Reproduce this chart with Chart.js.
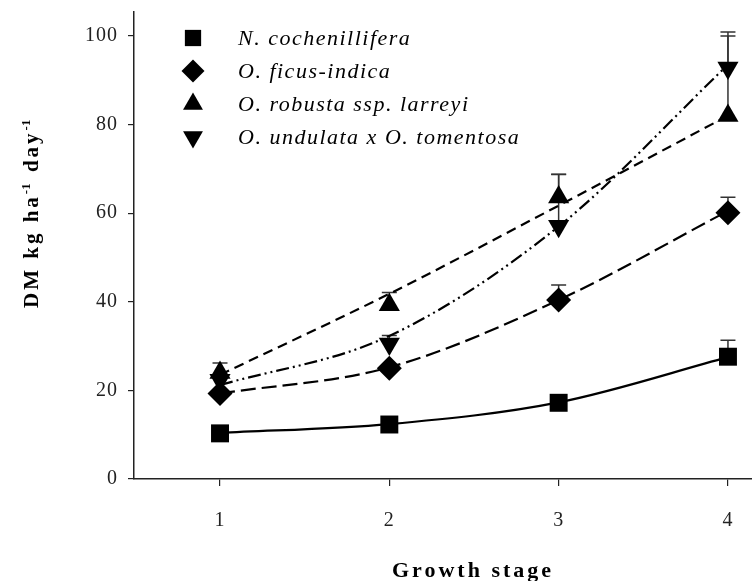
<!DOCTYPE html>
<html lang="en">
<head>
  <meta charset="UTF-8">
  <title>DM by growth stage</title>
  <script src="https://cdn.jsdelivr.net/npm/chart.js"></script>
  <style>
    html, body { margin: 0; padding: 0; background: #fff; }
    #wrap { width: 752px; height: 581px; }
  </style>
</head>
<body>
  <div id="wrap"><canvas id="grafico" width="752" height="581"></canvas></div>

  <script>
    const stages = [1, 2, 3, 4];
    const yTicks = [0, 20, 40, 60, 80, 100];
    const species = ['N. cochenillifera', 'O. ficus-indica', 'O. robusta ssp. larreyi', 'O. undulata x O. tomentosa'];

    // mean DM (kg/ha/day) per stage
    const cochenillifera = [10.3, 12.3, 17.2, 27.6];
    const ficusIndica = [19.3, 25.0, 40.4, 60.1];
    const robusta = [24.0, 39.3, 63.6, 82.0];
    const undulata = [22.3, 30.5, 57.1, 92.8];

    // upper error bars
    const errCochenillifera = [0, 0, 0, 3.7];
    const errFicusIndica = [0, 0, 3.4, 3.5];
    const errRobusta = [2.2, 2.8, 5.2, 18.0];
    const errUndulata = [0, 1.9, 11.6, 8.1];

    // fitted trend curves at each stage
    const fitCochenillifera = [10.4, 12.4, 17.3, 27.5];
    const fitFicusIndica = [19.3, 25.2, 40.4, 60.5];
    const fitRobusta = [23.5, 41.8, 61.7, 82.0];
    const fitUndulata = [21.2, 32.3, 57.0, 93.5];

    const pts = arr => stages.map((s, i) => ({ x: s, y: arr[i] }));

    function serie(label, values, err, style, radius, rotation) {
      return {
        label: label,
        data: pts(values),
        errUp: err,
        showLine: false,
        pointStyle: style,
        pointRadius: radius,
        rotation: rotation,
        pointRotation: rotation,
        pointBackgroundColor: '#000',
        pointBorderWidth: 0,
        order: 1
      };
    }

    function tendencia(values, dash) {
      return {
        label: '',
        data: pts(values),
        showLine: true,
        borderColor: '#000',
        borderWidth: 2.2,
        borderDash: dash,
        cubicInterpolationMode: 'monotone',
        pointRadius: 0,
        fill: false,
        order: 2
      };
    }

    // error bars go under the markers
    const errorBars = {
      id: 'errorBars',
      beforeDatasetsDraw(chart) {
        const ctx = chart.ctx;
        const yScale = chart.scales.y;
        ctx.save();
        ctx.strokeStyle = '#333';
        ctx.lineWidth = 1.5;
        chart.data.datasets.forEach((ds, i) => {
          if (!ds.errUp) return;
          chart.getDatasetMeta(i).data.forEach((p, j) => {
            const e = ds.errUp[j];
            if (!e) return;
            const top = yScale.getPixelForValue(ds.data[j].y + e);
            ctx.beginPath();
            ctx.moveTo(p.x, p.y);
            ctx.lineTo(p.x, top);
            ctx.moveTo(p.x - 7.5, top);
            ctx.lineTo(p.x + 7.5, top);
            ctx.stroke();
          });
        });
        ctx.restore();
      }
    };

    const spacing = {
      id: 'spacing',
      beforeDraw(chart) {
        chart.ctx.letterSpacing = '1px';
      }
    };

    // legend and axis titles
    const textos = {
      id: 'textos',
      afterDraw(chart) {
        const ctx = chart.ctx;
        ctx.save();
        ctx.fillStyle = '#000';
        ctx.textAlign = 'left';
        ctx.textBaseline = 'alphabetic';

        ctx.font = 'italic 22px "Liberation Serif"';
        ctx.letterSpacing = '1.5px';
        species.forEach((name, i) => {
          const ds = chart.data.datasets[i];
          const cy = 38 + i * 33;
          Chart.helpers.drawPoint(ctx, {
            pointStyle: ds.pointStyle, radius: 11.5, rotation: ds.rotation, borderWidth: 0
          }, 193, cy);
          ctx.fillText(name, 238, cy + 7);
        });

        ctx.font = 'bold 22px "Liberation Serif"';
        ctx.letterSpacing = '3px';
        ctx.fillText('Growth stage', 392, 577);

        // y title with superscripts, rotated
        ctx.translate(38, 308);
        ctx.rotate(-Math.PI / 2);
        const partes = [['DM kg ha', 0], ['-1', 1], [' day', 0], ['-1', 1]];
        let x = 0;
        partes.forEach(([t, sup]) => {
          ctx.font = sup ? 'bold 13px "Liberation Serif"' : 'bold 21px "Liberation Serif"';
          ctx.letterSpacing = sup ? '0px' : '3px';
          ctx.fillText(t, x, sup ? -8 : 0);
          x += ctx.measureText(t).width + (sup ? 3 : 0);
        });
        ctx.restore();
      }
    };

    const tickFont = { family: '"Liberation Serif"', size: 20 };

    new Chart(document.getElementById('grafico'), {
      type: 'scatter',
      data: {
        datasets: [
          serie(species[0], cochenillifera, errCochenillifera, 'rect', 12.7, 0),
          serie(species[1], ficusIndica, errFicusIndica, 'rectRot', 12.5, 0),
          serie(species[2], robusta, errRobusta, 'triangle', 12.2, 0),
          serie(species[3], undulata, errUndulata, 'triangle', 12.2, 180),
          tendencia(fitCochenillifera, []),
          tendencia(fitFicusIndica, [15, 6]),
          tendencia(fitRobusta, [10, 6]),
          tendencia(fitUndulata, [13, 4, 2, 4, 2, 4])
        ]
      },
      options: {
        responsive: false,
        animation: false,
        devicePixelRatio: 1,
        events: [],
        layout: { autoPadding: false, padding: { top: 12, right: 0, left: 0, bottom: 0 } },
        scales: {
          x: {
            type: 'linear',
            min: 0.492,
            max: 4.142,
            afterBuildTicks: s => { s.ticks = stages.map(v => ({ value: v })); },
            afterFit: s => {
              s.height = 102;
              s.paddingLeft = 0;
              s.paddingRight = 0;
            },
            ticks: { font: tickFont, color: '#222', padding: 23, maxRotation: 0 },
            grid: { drawOnChartArea: false, tickLength: 7, color: '#222', lineWidth: 1.2 },
            border: { color: '#222', width: 1.5 }
          },
          y: {
            min: 0,
            max: 105.4,
            afterBuildTicks: s => { s.ticks = yTicks.map(v => ({ value: v })); },
            afterFit: s => {
              s.width = 134;
              s.paddingTop = 0;
              s.paddingBottom = 0;
            },
            ticks: { font: tickFont, color: '#222', padding: 10 },
            grid: { drawOnChartArea: false, tickLength: 6, color: '#222', lineWidth: 1.2 },
            border: { color: '#222', width: 1.5 }
          }
        },
        plugins: {
          legend: { display: false },
          tooltip: { enabled: false }
        }
      },
      plugins: [spacing, errorBars, textos]
    });
  </script>
</body>
</html>
